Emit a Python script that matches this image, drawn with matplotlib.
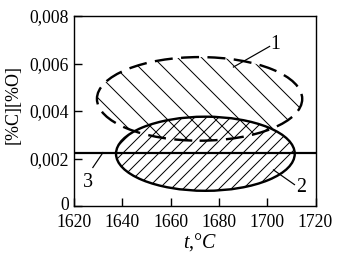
import matplotlib
matplotlib.use("Agg")
import matplotlib.pyplot as plt
import matplotlib.transforms as mtransforms
from matplotlib.patches import Ellipse
from matplotlib.ticker import FuncFormatter

plt.rcParams['font.family'] = ['Liberation Serif', 'DejaVu Serif']
plt.rcParams['hatch.linewidth'] = 0.5
plt.rcParams['mathtext.fontset'] = 'custom'
plt.rcParams['mathtext.it'] = 'Liberation Serif:italic'
plt.rcParams['mathtext.rm'] = 'Liberation Serif'

# data
x_ticks = [1620, 1640, 1660, 1680, 1700, 1720]
y_ticks = [0, 0.002, 0.004, 0.006, 0.008]
# ellipse 1 (dashed): center t, center value, width (deg), height
ell1 = [1672.0, 0.00451, 85.0, 0.00352]
# ellipse 2 (solid)
ell2 = [1674.4, 0.00220, 74.0, 0.00312]
# line 3 level
line3 = 0.00225
# curve labels: (text, text x, text y, leader start x, start y, end x, end y)
labels = [
    ("1", 1703.5, 0.00682, 1686.0, 0.00585, 1701.0, 0.00672),
    ("2", 1714.0, 0.00076, 1702.6, 0.00152, 1711.3, 0.00090),
    ("3", 1625.8, 0.00101, 1627.8, 0.00162, 1632.0, 0.00225),
]

DPI = 144
fig = plt.figure(figsize=(357 / DPI, 253 / DPI), dpi=DPI)
ax = fig.add_axes([74 / 357, 47 / 253, 241.5 / 357, 190 / 253])

e1 = Ellipse((ell1[0], ell1[1]), ell1[2], ell1[3], facecolor='none',
             edgecolor='black', hatch='\\\\', linewidth=1.2,
             linestyle=(0, (7.5, 3.5)), zorder=2)
ax.add_patch(e1)
e2 = Ellipse((ell2[0], ell2[1]), ell2[2], ell2[3], facecolor='none',
             edgecolor='black', hatch='////', linewidth=1.2, zorder=3)
ax.add_patch(e2)
ax.axhline(line3, color='black', linewidth=1.1, zorder=4)

for txt, tx, ty, sx, sy, ex, ey in labels:
    ax.plot([sx, ex], [sy, ey], color='black', linewidth=0.6, zorder=5)
    ax.text(tx, ty, txt, fontsize=10, ha='center', va='center', zorder=6)

ax.set_xlim(x_ticks[0], x_ticks[-1])
ax.set_ylim(y_ticks[0], y_ticks[-1])
ax.set_xticks(x_ticks)
ax.set_yticks(y_ticks)
ax.xaxis.set_major_formatter(FuncFormatter(lambda v, p: f"{v:.0f}"))
ax.yaxis.set_major_formatter(FuncFormatter(
    lambda v, p: "0" if v == 0 else f"{v:.3f}".replace('.', ',')))
ax.tick_params(direction='in', length=4, width=0.7, labelsize=8.8, pad=2.5)
ax.tick_params(axis='x', pad=4)
for s in ax.spines.values():
    s.set_linewidth(0.7)

# nudge the "0" label up a little, as in the reference
fig.canvas.draw()
lbl0 = ax.yaxis.get_major_ticks()[0].label1
lbl0.set_transform(lbl0.get_transform() +
                   mtransforms.ScaledTranslation(0, 3 / DPI, fig.dpi_scale_trans))

fig.text(13 / 357, 1 - 104 / 253, "[%C][%O]", rotation=90, fontsize=9,
         ha='center', va='center')
fig.text(200 / 357, 1 - 242 / 253, r"$t$,°$C$", fontsize=10,
         ha='center', va='center')

fig.savefig("out.png", dpi=DPI)
